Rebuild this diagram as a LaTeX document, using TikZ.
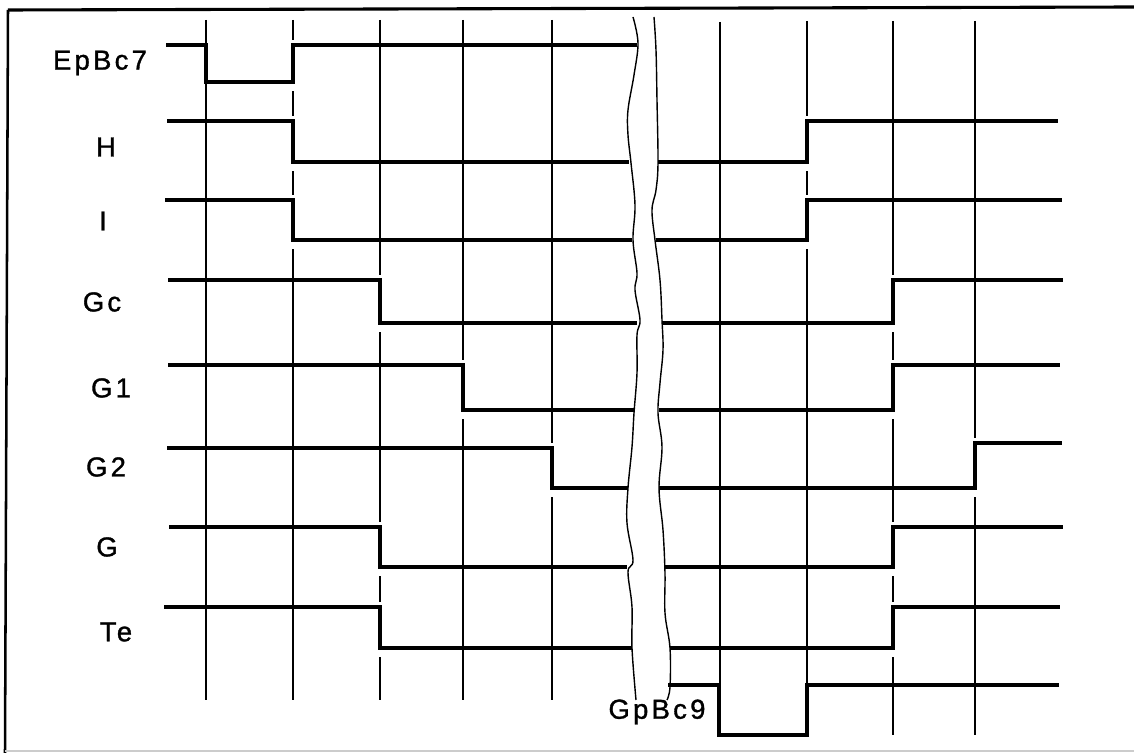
\documentclass[tikz,border=0pt]{standalone}
\usepackage{fontspec}
\newfontfamily\lblfont[LetterSpace=12, FakeBold=1.2]{Liberation Sans}
\tikzset{
  sig/.style={line width=2.5pt, line join=miter},
  gridln/.style={line width=1.3pt},
  brk/.style={line width=1pt},
  gapmask/.style={white, line width=3pt},
  lbl/.style={font=\lblfont\fontsize{19.5}{22}\selectfont, inner sep=0pt}
}
\begin{document}
\begin{tikzpicture}[x=0.025cm, y=-0.025cm]
\useasboundingbox (0,0) rectangle (1134,753);
\draw[line width=2.2pt] (8,10) -- (1134,7);
\draw[line width=1.8pt] (8,10) -- (5,753);
\draw[gray!40, line width=1pt] (5,751) -- (1134,751);
\foreach \x in {206,293,380,463,552} \draw[gridln] (\x,20) -- (\x,700);
\draw[gridln] (720,22) -- (720,685);
\foreach \x in {807,893,975} \draw[gridln] (\x,21) -- (\x,735);
\foreach \x/\a/\b in {293/45/82, 293/121/162, 293/200/240, 380/280/323, 380/527/567, 380/607/648, 463/365/410, 552/448/488, 807/121/162, 807/200/240, 893/280/323, 893/365/410, 893/527/567, 893/607/648, 975/443/488}
  \draw[gapmask] (\x,\a-5) -- (\x,\b+9);
\draw[sig] (166,45) -- (206,45) -- (206,82) -- (293,82) -- (293,45) -- (637,45);
\draw[sig] (167,121) -- (293,121) -- (293,162) -- (629,162);
\draw[sig] (658,162) -- (807,162) -- (807,121) -- (1058,121);
\draw[sig] (165,200) -- (293,200) -- (293,240) -- (632,240);
\draw[sig] (656,240) -- (807,240) -- (807,200) -- (1062,200);
\draw[sig] (168,280) -- (380,280) -- (380,323) -- (637,323);
\draw[sig] (663,323) -- (893,323) -- (893,280) -- (1063,280);
\draw[sig] (168,365) -- (463,365) -- (463,410) -- (635,410);
\draw[sig] (659,410) -- (893,410) -- (893,365) -- (1060,365);
\draw[sig] (167,448) -- (552,448) -- (552,488) -- (628,488);
\draw[sig] (659,488) -- (975,488) -- (975,443) -- (1062,443);
\draw[sig] (169,527) -- (380,527) -- (380,567) -- (627,567);
\draw[sig] (665,567) -- (893,567) -- (893,527) -- (1063,527);
\draw[sig] (164,607) -- (380,607) -- (380,648) -- (632,648);
\draw[sig] (670,648) -- (893,648) -- (893,607) -- (1060,607);
\draw[sig] (668,685) -- (719,685) -- (719,735) -- (807,735) -- (807,685) -- (1059,685);
\draw[brk] plot[smooth, tension=0.6] coordinates {(633,17) (638,43) (634,75) (628,110) (628,135) (631,163) (635,205) (633,240) (637,273) (635,290) (640,320) (637,335) (637,373) (634,413) (632,447) (628,488) (627,523) (633,560) (628,572) (632,607) (632,648) (636,700)};
\draw[brk] plot[smooth, tension=0.6] coordinates {(654,17) (656,50) (657,100) (658,163) (656,190) (652,210) (655,240) (660,280) (662,320) (663,350) (660,383) (658,413) (662,447) (659,488) (663,530) (665,573) (665,613) (670,648) (670,687) (667,700)};
\node[lbl] (lEpBc7) at (100,63) {EpBc7};
\node[lbl] (lH) at (106,147) {H};
\node[lbl] (lI) at (103,221) {I};
\node[lbl] (lGc) at (102,302) {Gc};
\node[lbl] (lGone) at (111,388) {G1};
\node[lbl] (lGtwo) at (106,467) {G2};
\node[lbl] (lG) at (107,547) {G};
\node[lbl] (lTe) at (116,632) {Te};
\node[lbl] (lGpBc9) at (657,712) {GpBc9};
\end{tikzpicture}
\end{document}
